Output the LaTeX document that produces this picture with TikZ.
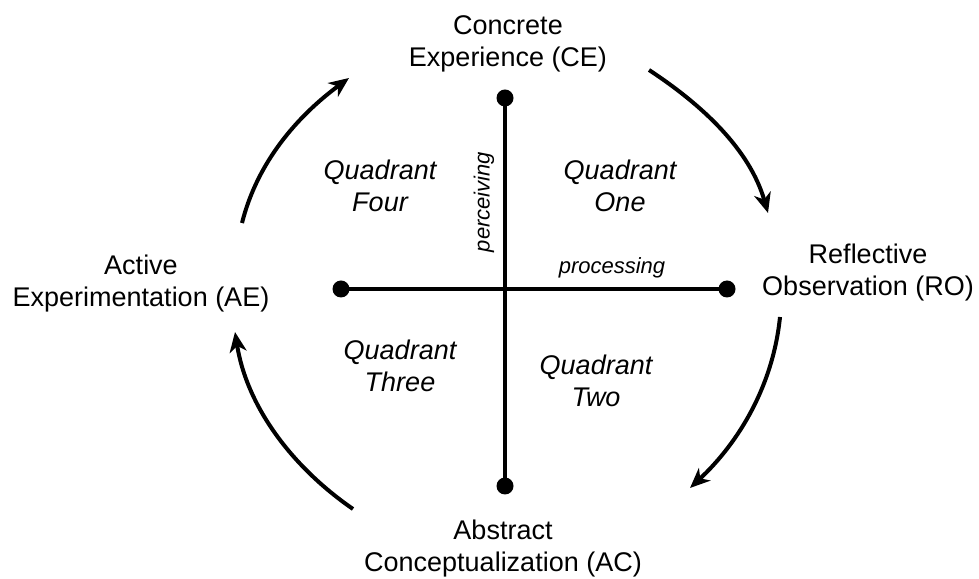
\documentclass[tikz,border=0pt]{standalone}
\usepackage{fontspec}
\setmainfont{Liberation Sans}
\usetikzlibrary{arrows.meta}
\setlength{\tabcolsep}{0pt}
\tikzset{
  lbl/.style={font=\fontsize{27}{32}\selectfont, inner sep=0pt, anchor=base},
  quad/.style={font=\fontsize{27}{32}\selectfont\itshape, inner sep=0pt, anchor=base},
  axislbl/.style={font=\fontsize{22}{26}\selectfont\itshape, inner sep=0pt},
  dotnode/.style={circle, fill=black, minimum size=17pt, inner sep=0pt},
  axisline/.style={line width=4pt},
  cyclearrow/.style={line width=4pt, -{Stealth[length=20pt,width=17pt,inset=6pt]}, looseness=0.9}
}
\begin{document}
\begin{tikzpicture}[x=1pt,y=1pt]
\useasboundingbox (0,0) rectangle (979,578);
% axes
\coordinate (ctop) at (505,480);
\coordinate (cbot) at (505,92);
\coordinate (cleft) at (341,289);
\coordinate (cright) at (727,289);
\draw[axisline] (ctop) -- (cbot);
\draw[axisline] (cleft) -- (cright);
\node[dotnode] (dtop) at (ctop) {};
\node[dotnode] (dbot) at (cbot) {};
\node[dotnode] (dleft) at (cleft) {};
\node[dotnode] (dright) at (cright) {};
% stage labels
\node[lbl] (ce) at (508,543) {\begin{tabular}[t]{c}Concrete\\Experience (CE)\end{tabular}};
\node[lbl] (ro) at (868,314) {\begin{tabular}[t]{c}Reflective\\Observation (RO)\end{tabular}};
\node[lbl] (ac) at (503,38) {\begin{tabular}[t]{c}Abstract\\Conceptualization (AC)\end{tabular}};
\node[lbl] (ae) at (141,303) {\begin{tabular}[t]{c}Active\\Experimentation (AE)\end{tabular}};
% quadrant labels
\node[quad] (q1) at (620,398) {\begin{tabular}[t]{c}Quadrant\\One\end{tabular}};
\node[quad] (q4) at (380,398) {\begin{tabular}[t]{c}Quadrant\\Four\end{tabular}};
\node[quad] (q3) at (400,218) {\begin{tabular}[t]{c}Quadrant\\Three\end{tabular}};
\node[quad] (q2) at (596,203) {\begin{tabular}[t]{c}Quadrant\\Two\end{tabular}};
% axis labels
\node[axislbl, rotate=90] (perc) at (484,376) {perceiving};
\node[axislbl, anchor=base] (proc) at (612,304) {processing};
% cycle arrows
\coordinate (a1s) at (242,355);
\coordinate (a1e) at (349,500);
\coordinate (a2s) at (649,508);
\coordinate (a2e) at (768,365);
\coordinate (a3s) at (780,261);
\coordinate (a3e) at (690,90);
\coordinate (a4s) at (353,69);
\coordinate (a4e) at (235,246);
\draw[cyclearrow] (a1s) to[out=75.9, in=216.5] (a1e);
\draw[cyclearrow] (a2s) to[out=-33.3, in=106.1] (a2e);
\draw[cyclearrow] (a3s) to[out=-95.8, in=43] (a3e);
\draw[cyclearrow] (a4s) to[out=145.4, in=-81] (a4e);
\end{tikzpicture}
\end{document}
